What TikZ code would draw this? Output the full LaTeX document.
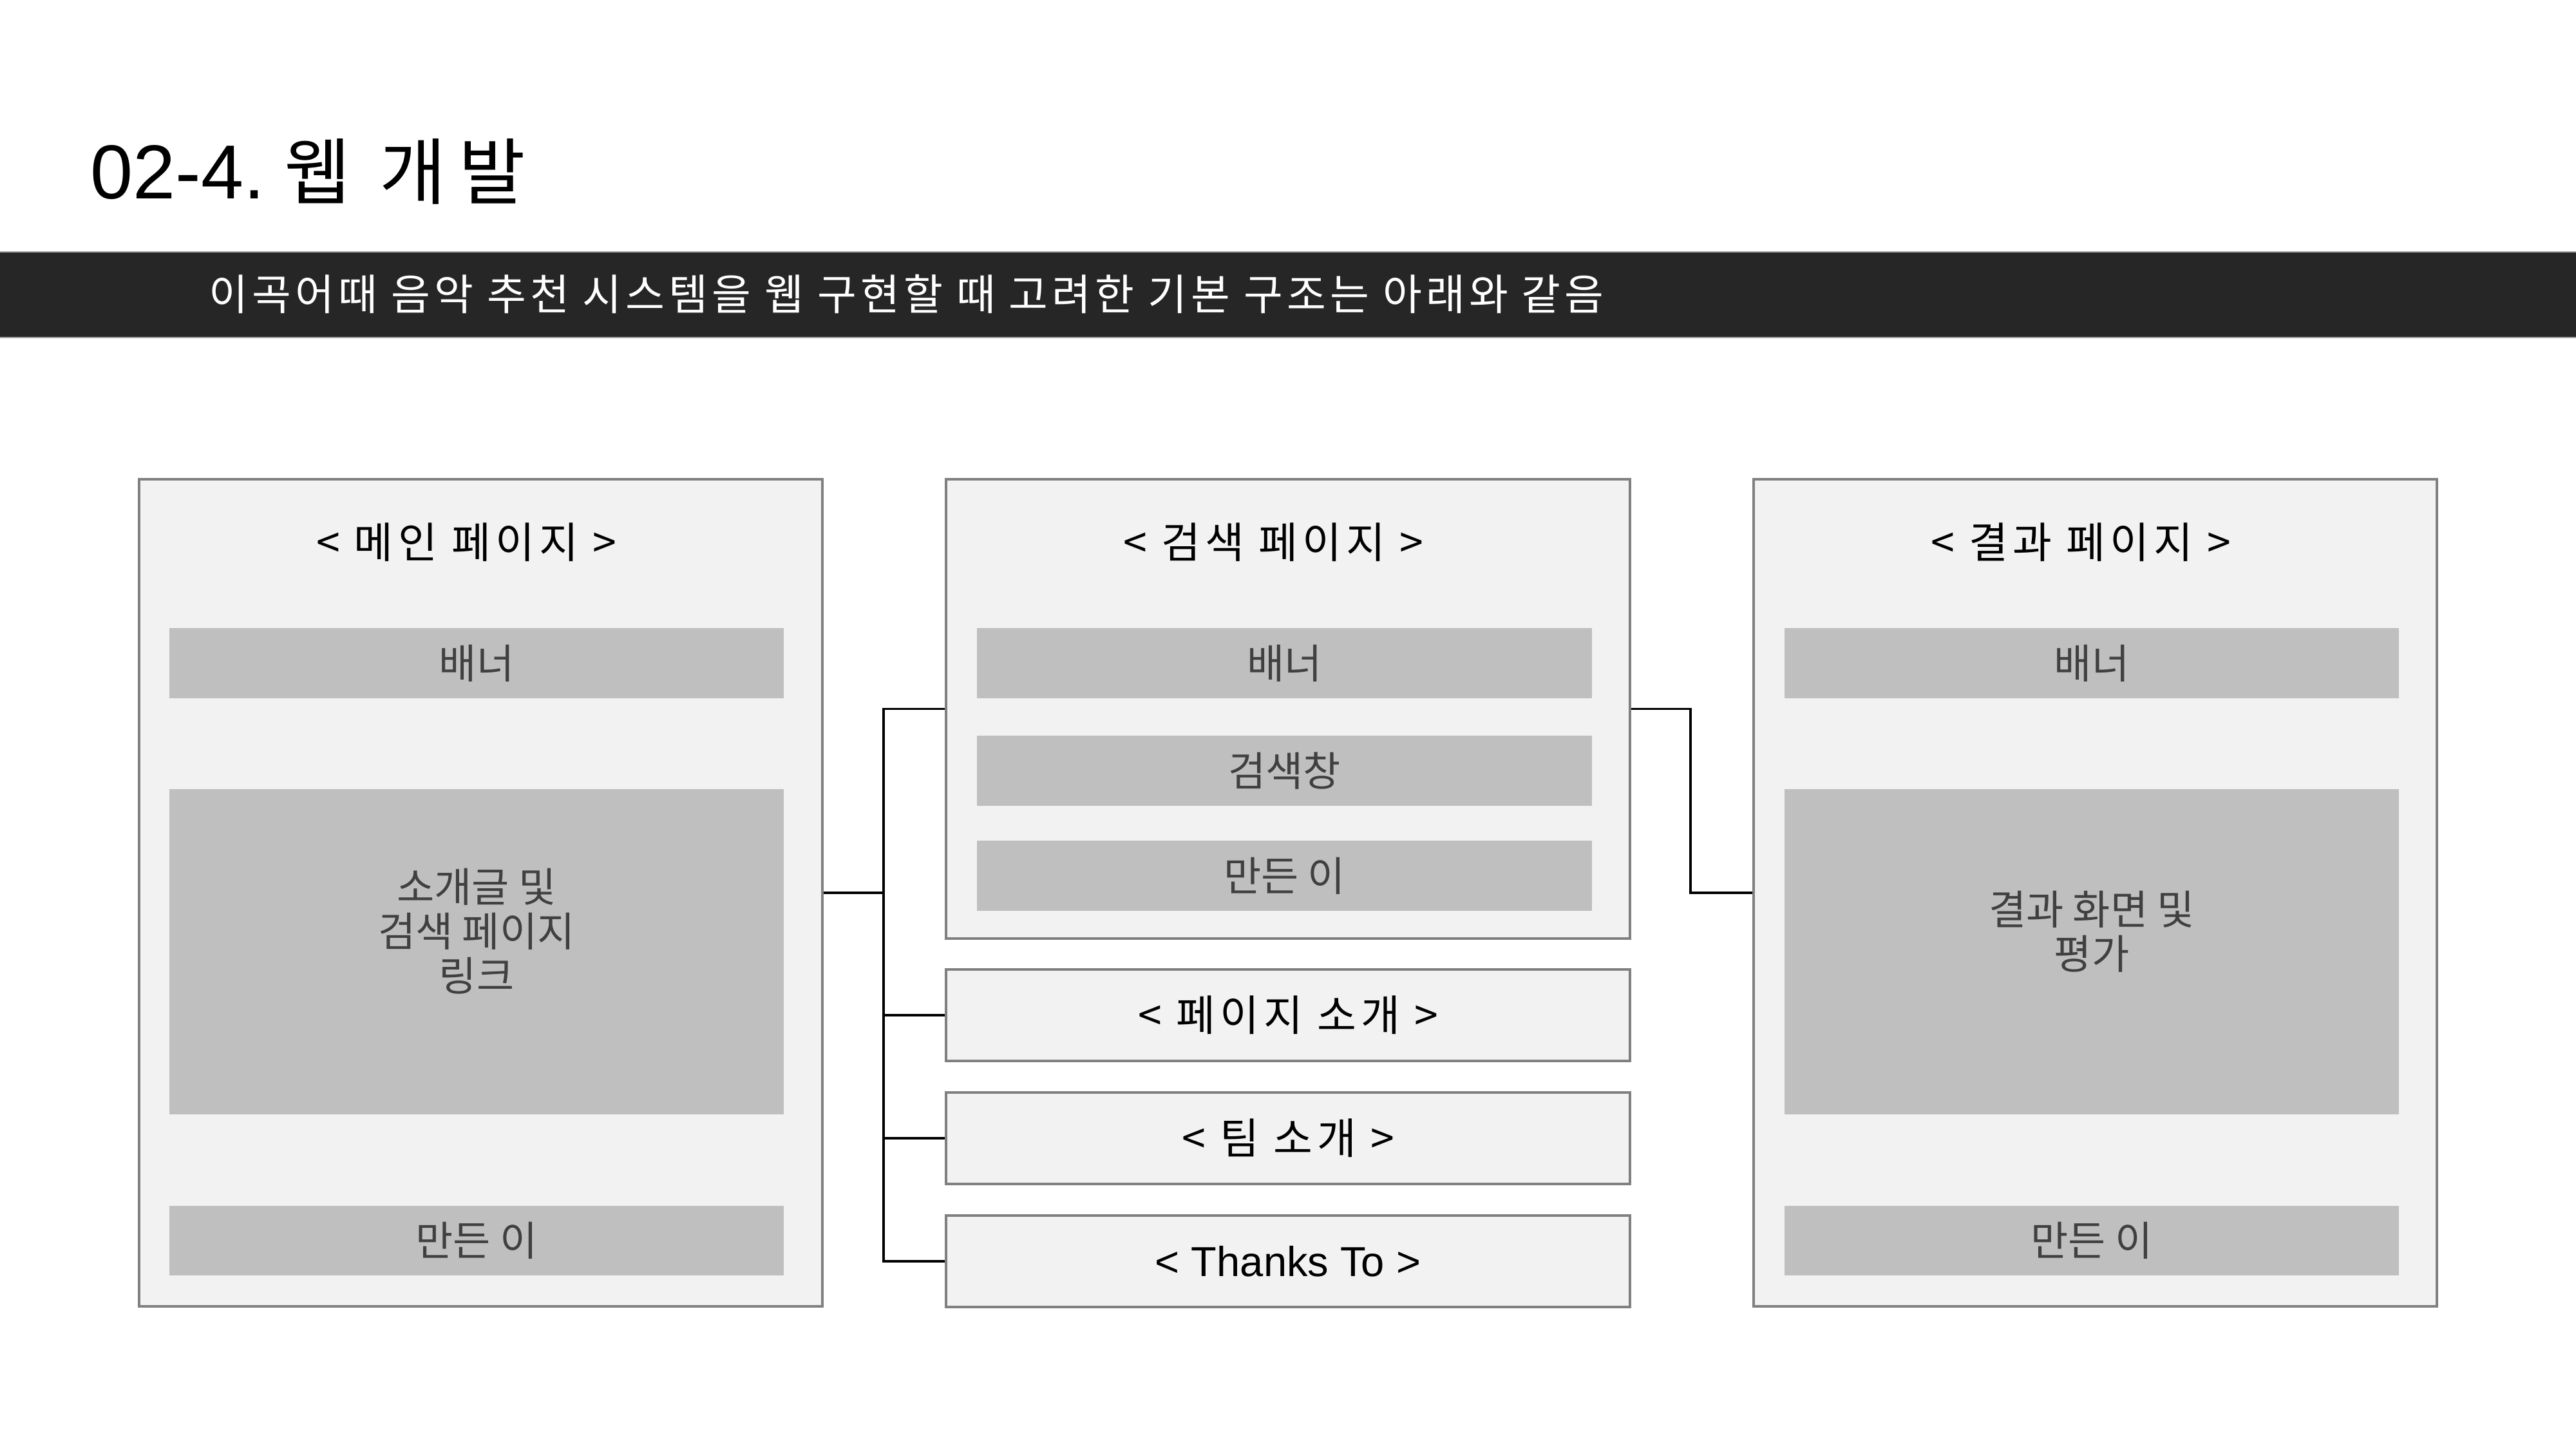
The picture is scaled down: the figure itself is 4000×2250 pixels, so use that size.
\documentclass[tikz,border=0pt]{standalone}
\usepackage{fontspec}
\setmainfont{Noto Sans CJK KR}
\newfontfamily\latinf{Liberation Sans}
\definecolor{pagefill}{HTML}{F2F2F2}
\definecolor{blockgray}{HTML}{BFBFBF}
\definecolor{bordergray}{HTML}{808080}
\definecolor{bandcol}{HTML}{262626}
\definecolor{blocktext}{HTML}{404040}
\begin{document}
\begin{tikzpicture}[x=0.01cm,y=-0.01cm,
  page/.style={draw=bordergray,line width=1.1pt,fill=pagefill,inner sep=0pt},
  block/.style={fill=blockgray,draw=none,inner sep=0pt,text=blocktext,font=\fontsize{18pt}{19.6pt}\selectfont},
  ttl/.style={inner sep=0pt,text=black,font=\fontsize{18.8pt}{19.6pt}\selectfont\addfontfeature{LetterSpace=11}},
  btxt/.style={inner sep=0pt,text=blocktext,align=center,font=\fontsize{18pt}{19.6pt}\selectfont},
  conn/.style={draw=black,line width=1pt}]
\useasboundingbox (0,0) rectangle (4000,2250);
\fill[white] (0,0) rectangle (4000,2250);

% title
\node[anchor=base west,inner sep=0pt] (title) at (140,308)
  {{\latinf\fontsize{33.8pt}{40pt}\selectfont 02-4.}\hspace{8.6pt}{\fontsize{32pt}{36pt}\selectfont\addfontfeature{LetterSpace=17}웹 개발}};

% band
\node[fill=bandcol,draw=bordergray!70,line width=0.5pt,minimum width=40.04cm,minimum height=1.33cm,inner sep=0pt,anchor=north west] (band) at (-2,390) {};
\node[anchor=west,inner sep=0pt,text=white,font=\fontsize{18.8pt}{22pt}\selectfont\addfontfeature{LetterSpace=9.3}] (bandtext) at (324,456)
  {이곡어때 음악 추천 시스템을 웹 구현할 때 고려한 기본 구조는 아래와 같음};

% left page
\node[page,minimum width=10.61cm,minimum height=12.84cm] (mainpage) at (746.5,1386) {};
\node[ttl] (maintitle) at (724,842) {< 메인 페이지 >};
\node[block,minimum width=9.54cm,minimum height=1.09cm] (mainbanner) at (740,1029.5) {배너};
\node[block,minimum width=9.54cm,minimum height=5.05cm] (maincontent) at (740,1477.5) {};
\node[btxt] (maincontenttext) at (740,1446) {소개글 및\\검색 페이지\\링크};
\node[block,minimum width=9.54cm,minimum height=1.08cm] (mainmaker) at (740,1926) {만든 이};

% middle search page
\node[page,minimum width=10.62cm,minimum height=7.13cm] (search) at (2000,1100.5) {};
\node[ttl] (searchtitle) at (1977,842) {< 검색 페이지 >};
\node[block,minimum width=9.55cm,minimum height=1.09cm] (searchbanner) at (1994.5,1029.5) {배너};
\node[block,minimum width=9.55cm,minimum height=1.09cm] (searchbar) at (1994.5,1196.5) {검색창};
\node[block,minimum width=9.55cm,minimum height=1.09cm] (searchmaker) at (1994.5,1359.5) {만든 이};

% middle small pages
\node[page,minimum width=10.62cm,minimum height=1.42cm,ttl] (intro) at (2000,1576) {< 페이지 소개 >};
\node[page,minimum width=10.62cm,minimum height=1.42cm,ttl] (team) at (2000,1767) {< 팀 소개 >};
\node[page,minimum width=10.62cm,minimum height=1.42cm,inner sep=0pt,text=black,font=\latinf\fontsize{18.5pt}{20pt}\selectfont] (thanks) at (2000,1958) {< Thanks To >};

% right page
\node[page,minimum width=10.61cm,minimum height=12.84cm] (result) at (3253.5,1386) {};
\node[ttl] (resulttitle) at (3231,842) {< 결과 페이지 >};
\node[block,minimum width=9.54cm,minimum height=1.09cm] (resultbanner) at (3248,1029.5) {배너};
\node[block,minimum width=9.54cm,minimum height=5.05cm] (resultcontent) at (3248,1477.5) {};
\node[btxt] (resultcontenttext) at (3248,1446) {결과 화면 및\\평가};
\node[block,minimum width=9.54cm,minimum height=1.08cm] (resultmaker) at (3248,1926) {만든 이};

% connectors
\coordinate (tj) at (1372,1386);
\coordinate (rj) at (2625,1386);
\draw[conn] (mainpage.east) -- (tj);
\draw[conn] (search.west) -- (search.west -| tj) -- (thanks.west -| tj) -- (thanks.west);
\draw[conn] (intro.west -| tj) -- (intro.west);
\draw[conn] (team.west -| tj) -- (team.west);
\draw[conn] (search.east) -- (search.east -| rj) -- (rj) -- (result.west);
\end{tikzpicture}
\end{document}
